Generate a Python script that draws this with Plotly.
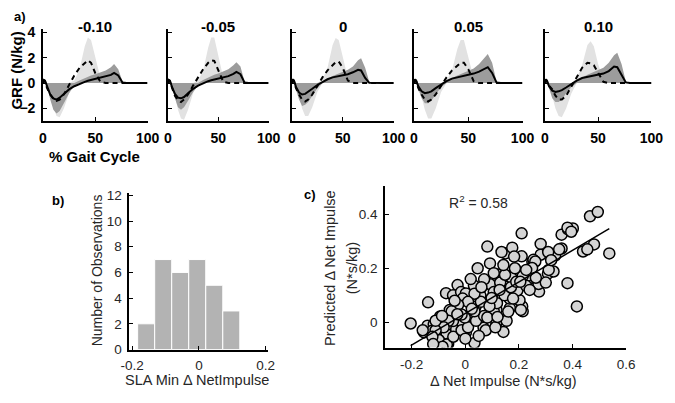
import plotly.graph_objects as go

W, H = 675, 403

# ---------------- Panel a) GRF data ----------------
GAIT_X = [0, 1, 2, 4, 7, 10, 13, 16, 20, 25, 30, 35, 40, 43, 46, 50, 55, 60, 65, 68, 72, 76, 80, 90, 100]
PANEL_TITLES = ["-0.10", "-0.05", "0", "0.05", "0.10"]

SOLID = [
    [0, 0.25, 0.2, -0.3, -0.9, -1.2, -1.3, -1.15, -0.85, -0.5, -0.25, -0.05, 0.1, 0.18, 0.24, 0.3, 0.4, 0.5, 0.65, 0.8, 0.6, 0.05, 0, 0, 0],
    [0, 0.25, 0.2, -0.3, -0.85, -1.15, -1.2, -1.1, -0.8, -0.45, -0.2, 0.0, 0.15, 0.22, 0.28, 0.35, 0.45, 0.55, 0.72, 0.88, 0.7, 0.05, 0, 0, 0],
    [0, 0.3, 0.2, -0.3, -0.75, -0.9, -0.85, -0.7, -0.45, -0.15, 0.1, 0.3, 0.45, 0.5, 0.55, 0.6, 0.7, 0.85, 1.05, 1.0, 0.4, 0.02, 0, 0, 0],
    [0, 0.3, 0.2, -0.25, -0.65, -0.8, -0.75, -0.65, -0.4, -0.1, 0.15, 0.35, 0.45, 0.5, 0.55, 0.65, 0.75, 0.9, 1.15, 1.25, 0.8, 0.05, 0, 0, 0],
    [0, 0.3, 0.2, -0.25, -0.6, -0.7, -0.65, -0.55, -0.35, -0.05, 0.2, 0.4, 0.5, 0.55, 0.6, 0.65, 0.75, 0.95, 1.3, 1.25, 0.7, 0.05, 0, 0, 0],
]
DASHED = [
    [0, 0.2, 0.1, -0.4, -0.9, -1.25, -1.4, -1.3, -0.9, -0.15, 0.6, 1.2, 1.6, 1.8, 1.6, 0.8, 0.1, 0, 0, 0, 0, 0, 0, 0, 0],
    [0, 0.2, 0.1, -0.4, -1.0, -1.35, -1.5, -1.3, -0.9, -0.2, 0.5, 1.1, 1.6, 1.8, 1.75, 1.0, 0.1, 0, 0, 0, 0, 0, 0, 0, 0],
    [0, 0.2, 0.1, -0.4, -0.9, -1.3, -1.45, -1.3, -0.9, -0.2, 0.45, 1.0, 1.45, 1.65, 1.7, 1.2, 0.2, 0, 0, 0, 0, 0, 0, 0, 0],
    [0, 0.2, 0.1, -0.4, -0.9, -1.3, -1.45, -1.3, -0.9, -0.2, 0.45, 1.0, 1.4, 1.6, 1.6, 1.1, 0.15, 0, 0, 0, 0, 0, 0, 0, 0],
    [0, 0.2, 0.1, -0.2, -0.5, -1.0, -1.3, -1.3, -1.0, -0.25, 0.4, 1.2, 1.6, 1.55, 1.4, 0.8, 0.1, 0, 0, 0, 0, 0, 0, 0, 0],
]
DARK_HI = [
    [0, 0.3, 0.3, 0, 0, 0, 0, 0, 0, 0, 0, 0.2, 0.4, 0.5, 0.6, 0.7, 0.85, 1.0, 1.25, 1.5, 1.1, 0.15, 0, 0, 0],
    [0, 0.3, 0.3, 0, 0, 0, 0, 0, 0, 0, 0, 0.25, 0.45, 0.55, 0.65, 0.75, 0.9, 1.1, 1.4, 1.65, 1.3, 0.15, 0, 0, 0],
    [0, 0.3, 0.3, 0, 0, 0, 0, 0, 0, 0, 0.1, 0.35, 0.55, 0.65, 0.75, 0.85, 1.05, 1.3, 1.8, 1.95, 1.2, 0.1, 0, 0, 0],
    [0, 0.3, 0.3, 0, 0, 0, 0, 0, 0, 0, 0.1, 0.4, 0.6, 0.7, 0.8, 0.95, 1.15, 1.5, 2.0, 2.3, 1.6, 0.15, 0, 0, 0],
    [0, 0.3, 0.3, 0, 0, 0, 0, 0, 0, 0, 0.1, 0.45, 0.65, 0.75, 0.85, 1.0, 1.2, 1.6, 2.2, 2.4, 1.5, 0.15, 0, 0, 0],
]
DARK_LO = [
    [0, 0, 0, -0.3, -1.3, -2.1, -2.4, -2.2, -1.6, -0.8, -0.2, 0, 0, 0, 0, 0, 0, 0, 0, 0, 0, 0, 0, 0, 0],
    [0, 0, 0, -0.3, -1.2, -1.9, -2.1, -1.9, -1.4, -0.7, -0.2, 0, 0, 0, 0, 0, 0, 0, 0, 0, 0, 0, 0, 0, 0],
    [0, 0, 0, -0.4, -1.3, -1.8, -1.7, -1.5, -1.0, -0.4, 0, 0, 0, 0, 0, 0, 0, 0, 0, 0, 0, 0, 0, 0, 0],
    [0, 0, 0, -0.4, -1.2, -1.6, -1.6, -1.4, -0.9, -0.3, 0, 0, 0, 0, 0, 0, 0, 0, 0, 0, 0, 0, 0, 0, 0],
    [0, 0, 0, -0.4, -1.2, -1.5, -1.5, -1.3, -0.8, -0.3, 0, 0, 0, 0, 0, 0, 0, 0, 0, 0, 0, 0, 0, 0, 0],
]
LIGHT_HI = [
    [0, 0, 0, 0, 0, 0, 0, 0, 0, 0, 0.2, 1.1, 2.9, 3.6, 3.4, 2.0, 0.4, 0, 0, 0, 0, 0, 0, 0, 0],
    [0, 0, 0, 0, 0, 0, 0, 0, 0, 0, 0.2, 1.0, 2.8, 3.6, 3.6, 2.2, 0.4, 0, 0, 0, 0, 0, 0, 0, 0],
    [0, 0, 0, 0, 0, 0, 0, 0, 0, 0, 0.3, 1.2, 3.0, 3.55, 3.4, 2.0, 0.4, 0, 0, 0, 0, 0, 0, 0, 0],
    [0, 0, 0, 0, 0, 0, 0, 0, 0, 0, 0.2, 1.0, 2.7, 3.4, 3.4, 2.1, 0.4, 0, 0, 0, 0, 0, 0, 0, 0],
    [0, 0, 0, 0, 0, 0, 0, 0, 0, 0, 0.4, 1.4, 3.0, 3.3, 2.9, 1.5, 0.3, 0, 0, 0, 0, 0, 0, 0, 0],
]
LIGHT_LO = [
    [0, 0, 0, -0.1, -0.9, -1.9, -2.6, -2.7, -2.0, -0.8, 0, 0, 0, 0, 0, 0, 0, 0, 0, 0, 0, 0, 0, 0, 0],
    [0, 0, 0, -0.1, -1.0, -2.1, -2.8, -2.9, -2.1, -0.8, 0, 0, 0, 0, 0, 0, 0, 0, 0, 0, 0, 0, 0, 0, 0],
    [0, 0, 0, -0.1, -1.0, -2.0, -2.6, -2.6, -1.9, -0.7, 0, 0, 0, 0, 0, 0, 0, 0, 0, 0, 0, 0, 0, 0, 0],
    [0, 0, 0, -0.1, -1.0, -2.1, -2.8, -2.8, -2.0, -0.7, 0, 0, 0, 0, 0, 0, 0, 0, 0, 0, 0, 0, 0, 0, 0],
    [0, 0, 0, -0.1, -1.0, -2.0, -2.6, -2.7, -2.0, -0.8, 0, 0, 0, 0, 0, 0, 0, 0, 0, 0, 0, 0, 0, 0, 0],
]

# ---------------- Panel b) histogram ----------------
HIST_CENTERS = [-0.158, -0.107, -0.056, -0.005, 0.046, 0.097]
HIST_COUNTS = [2, 7, 6, 7, 5, 3]
HIST_BIN_WIDTH = 0.051

# ---------------- Panel c) scatter ----------------
SCAT_X = [
    -0.204, -0.139, -0.141, -0.072, -0.029, 0.046, 0.082, 0.092, 0.149, 0.175, 0.210, 0.210,
    0.250, 0.281, 0.281, 0.275, 0.308, 0.329, 0.335, 0.359, 0.359, 0.383, 0.401, 0.381,
    0.416, 0.439, 0.465, 0.494, 0.480, 0.537, 0.034, 0.142, 0.214, 0.212, 0.166, 0.202,
    -0.046, -0.016, -0.022, -0.058, -0.094, -0.154, -0.118, -0.106, -0.070, -0.100, -0.064,
    -0.034, -0.010, 0.002, -0.046, -0.082, -0.124,
    0.135, 0.182, 0.032, 0.002, 0.092, 0.122, 0.158, 0.194, 0.165, 0.207, 0.116, 0.074,
    0.116, 0.068, 0.014, -0.004, 0.038, -0.010, 0.056, 0.146, 0.249, 0.230, 0.254,
    0.381, 0.309, 0.273, 0.261, 0.249, 0.395, 0.455,
    -0.099, -0.069, -0.045, -0.014, 0.010, 0.040, 0.070, 0.106, 0.118, 0.058, 0.106, 0.130,
    0.172, 0.214, 0.227, 0.148, 0.142, 0.106, 0.070, 0.034, 0.010, -0.027, -0.051, -0.063,
    -0.081, -0.111, -0.123, -0.159, -0.111, -0.087, -0.002, 0.076, 0.082, 0.154, 0.112,
    0.178, 0.227, 0.300, 0.263, 0.311, 0.034, -0.014,
    -0.085, -0.120, 0.000, 0.050, 0.120, 0.090, 0.170, 0.190, 0.060, 0.020, -0.040,
    0.205, 0.128, 0.098, 0.024, -0.030, 0.185, 0.240, 0.350, 0.320, 0.160,
]
SCAT_Y = [
    -0.004, 0.074, -0.012, 0.108, 0.138, 0.200, 0.280, 0.218, 0.255, 0.276, 0.329, 0.244,
    0.224, 0.290, 0.250, 0.114, 0.180, 0.188, 0.247, 0.273, 0.324, 0.344, 0.347, 0.145,
    0.059, 0.262, 0.392, 0.408, 0.288, 0.255, -0.076, -0.035, 0.041, 0.059, 0.053, 0.082,
    0.100, 0.112, 0.076, 0.046, 0.022, -0.037, -0.007, -0.031, -0.043, -0.067, -0.079,
    -0.025, -0.007, -0.037, 0.005, 0.011, -0.031,
    0.260, 0.243, 0.136, 0.107, 0.141, 0.177, 0.171, 0.118, 0.088, 0.046, 0.046, 0.016,
    -0.002, -0.020, 0.023, -0.031, 0.058, 0.088, 0.100, 0.100, 0.165, 0.171, 0.231,
    0.350, 0.260, 0.142, 0.225, 0.201, 0.335, 0.270,
    -0.065, -0.082, -0.053, -0.029, -0.018, 0.006, 0.024, 0.041, 0.071, 0.076, 0.112, 0.147,
    0.165, 0.171, 0.194, 0.176, 0.212, 0.182, 0.159, 0.106, 0.076, 0.065, 0.041, 0.006,
    -0.018, -0.029, -0.053, -0.029, 0.006, 0.024, 0.018, -0.029, 0.018, 0.006, -0.018,
    0.088, 0.135, 0.147, 0.165, 0.194, 0.041, 0.029,
    -0.090, -0.080, -0.060, -0.050, 0.020, 0.060, 0.130, 0.150, 0.130, 0.160, 0.080,
    0.150, 0.120, 0.090, 0.050, 0.030, 0.200, 0.120, 0.270, 0.230, 0.040,
]
FIT_SLOPE = 0.583
FIT_INTERCEPT = 0.033
R2_TEXT = "R<sup>2</sup> = 0.58"

# ---------------- layout helpers ----------------
def fx(px):
    return px / W

def fy(py):
    return 1 - py / H

TOP_DOMAINS_PX = [(35, 143), (164, 268), (292, 397), (418, 530), (553, 663)]
TOP_Y_PX = (25, 120)
HIST_X_PX, HIST_Y_PX = (124, 267), (194, 356)
SCAT_X_PX, SCAT_Y_PX = (388, 637), (187, 354)

FONT = "Liberation Sans, Arial, sans-serif"
LIGHT = "#e2e2e2"
DARK = "#9c9c9c"

fig = go.Figure()
layout = dict(
    width=W, height=H, margin=dict(l=0, r=0, t=0, b=0),
    paper_bgcolor="white", plot_bgcolor="white", showlegend=False,
    font=dict(family=FONT, color="#262626"),
)

axis_common = dict(showline=True, linecolor="black", linewidth=1.5, ticks="inside",
                   ticklen=4, tickcolor="black", tickwidth=1, showgrid=False, zeroline=False)

annotations = []
for i in range(5):
    n = i + 1
    xa = "x" if n == 1 else f"x{n}"
    ya = "y" if n == 1 else f"y{n}"
    fig.add_trace(go.Scatter(x=GAIT_X + GAIT_X[::-1], y=LIGHT_HI[i] + LIGHT_LO[i][::-1],
                             fill="toself", fillcolor=LIGHT, line=dict(width=0), mode="lines",
                             xaxis=xa, yaxis=ya, hoverinfo="skip"))
    fig.add_trace(go.Scatter(x=GAIT_X + GAIT_X[::-1], y=DARK_HI[i] + DARK_LO[i][::-1],
                             fill="toself", fillcolor=DARK, line=dict(width=0), mode="lines",
                             xaxis=xa, yaxis=ya, hoverinfo="skip"))
    fig.add_trace(go.Scatter(x=GAIT_X, y=DASHED[i], mode="lines",
                             line=dict(color="black", width=2, dash="5px,4px"),
                             xaxis=xa, yaxis=ya))
    fig.add_trace(go.Scatter(x=GAIT_X, y=SOLID[i], mode="lines",
                             line=dict(color="black", width=2),
                             xaxis=xa, yaxis=ya))
    d = TOP_DOMAINS_PX[i]
    xkey = "xaxis" if n == 1 else f"xaxis{n}"
    ykey = "yaxis" if n == 1 else f"yaxis{n}"
    layout[xkey] = dict(axis_common, domain=[fx(d[0]), fx(d[1])], range=[0, 100],
                        tickvals=[0, 50, 100], anchor=ya,
                        tickfont=dict(size=14, color="black", weight="bold"),
                        ticklabelstandoff=3)
    layout[ykey] = dict(axis_common, domain=[fy(TOP_Y_PX[1]), fy(TOP_Y_PX[0])], range=[-3, 4.25],
                        tickvals=[-2, 0, 2, 4], anchor=xa, showticklabels=(n == 1),
                        tickfont=dict(size=14, color="black", weight="bold"),
                        ticklabelstandoff=3)
    annotations.append(dict(text=PANEL_TITLES[i], x=fx((d[0] + d[1]) / 2), y=fy(22),
                            xref="paper", yref="paper", showarrow=False,
                            font=dict(size=15, color="black", weight="bold"),
                            xanchor="center", yanchor="middle"))

# histogram
fig.add_trace(go.Bar(x=HIST_CENTERS, y=HIST_COUNTS, width=HIST_BIN_WIDTH,
                     marker=dict(color="#b3b3b3", line=dict(color="white", width=1)),
                     xaxis="x6", yaxis="y6"))
layout["xaxis6"] = dict(axis_common, domain=[fx(HIST_X_PX[0]), fx(HIST_X_PX[1])],
                        range=[-0.209, 0.206], tickvals=[-0.2, 0, 0.2],
                        ticktext=["-0.2", "0", "0.2"], anchor="y6",
                        tickfont=dict(size=13.5, color="#262626"), ticklabelstandoff=3)
layout["yaxis6"] = dict(axis_common, domain=[fy(HIST_Y_PX[1]), fy(HIST_Y_PX[0])],
                        range=[0, 12.2], tickvals=[0, 2, 4, 6, 8, 10, 12], anchor="x6",
                        tickfont=dict(size=13.5, color="#262626"), ticklabelstandoff=3)

# scatter
fig.add_trace(go.Scatter(x=SCAT_X, y=SCAT_Y, mode="markers",
                         marker=dict(size=11, color="#d4d4d4", line=dict(color="black", width=1.5)),
                         xaxis="x7", yaxis="y7"))
xmin, xmax = min(SCAT_X), max(SCAT_X)
fig.add_trace(go.Scatter(x=[xmin, xmax],
                         y=[FIT_INTERCEPT + FIT_SLOPE * xmin, FIT_INTERCEPT + FIT_SLOPE * xmax],
                         mode="lines", line=dict(color="black", width=1.5),
                         xaxis="x7", yaxis="y7"))
layout["xaxis7"] = dict(axis_common, domain=[fx(SCAT_X_PX[0]), fx(SCAT_X_PX[1])],
                        range=[-0.3, 0.6], tickvals=[-0.2, 0, 0.2, 0.4, 0.6],
                        ticktext=["-0.2", "0", "0.2", "0.4", "0.6"], anchor="y7",
                        tickfont=dict(size=13.5, color="#262626"), ticklabelstandoff=3)
layout["yaxis7"] = dict(axis_common, domain=[fy(SCAT_Y_PX[1]), fy(SCAT_Y_PX[0])],
                        range=[-0.093, 0.504], tickvals=[0, 0.2, 0.4],
                        ticktext=["0", "0.2", "0.4"], anchor="x7",
                        tickfont=dict(size=13.5, color="#262626"), ticklabelstandoff=3)

def ann(text, px, py, size, bold=False, angle=0, color="#262626", xanchor="center"):
    f = dict(size=size, color=color)
    if bold:
        f["weight"] = "bold"
    annotations.append(dict(text=text, x=fx(px), y=fy(py), xref="paper", yref="paper",
                            showarrow=False, font=f, textangle=angle,
                            xanchor=xanchor, yanchor="middle"))

ann("a)", 11, 12, 13, bold=True, color="black")
ann("GRF (N/kg)", 8, 68, 15, bold=True, angle=-90, color="black")
ann("% Gait Cycle", 88, 157, 15, bold=True, color="black")
ann("b)", 51, 202, 13, bold=True, color="black")
ann("Number of Observations", 91, 274, 14, angle=-90)
ann("SLA Min Δ NetImpulse", 194, 388, 14.5)
ann("c)", 311, 196, 13, bold=True, color="black")
ann("Predicted Δ Net Impulse", 332, 272, 14.5, angle=-90)
ann("(N*s/kg)", 354, 272, 14.5, angle=-90)
ann("Δ Net Impulse (N*s/kg)", 510, 389, 14.5)
ann(R2_TEXT, 485, 204, 14)

layout["annotations"] = annotations
fig.update_layout(**layout)
fig.write_html("out.html", config={"displayModeBar": False},
               post_script="document.body.style.margin='0';document.body.style.overflow='hidden';")
